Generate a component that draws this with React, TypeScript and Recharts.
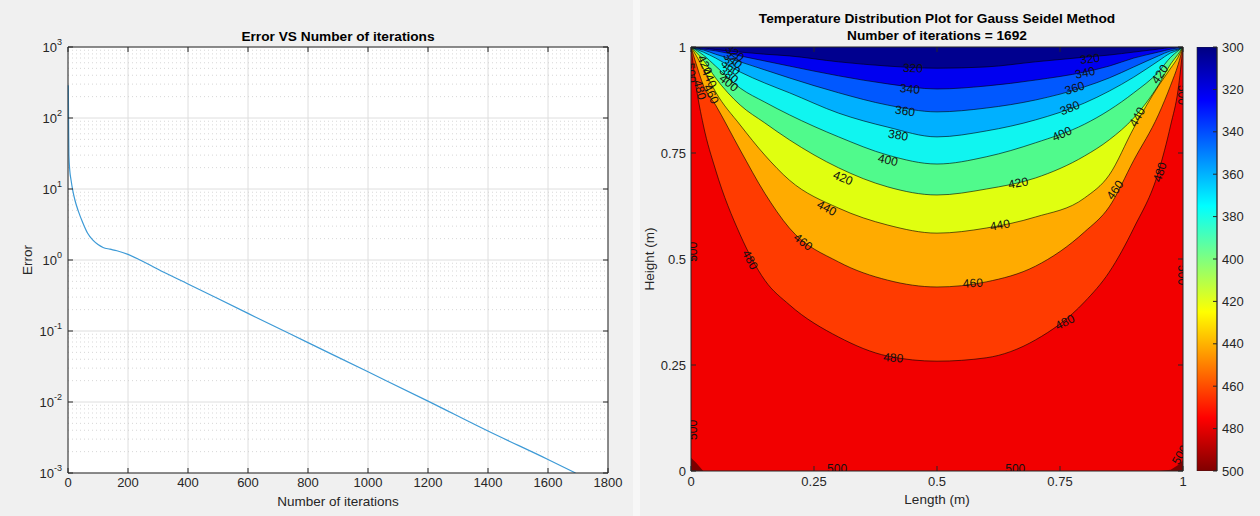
import React from 'react';
import {
  ComposedChart,
  Line,
  Area,
  Scatter,
  XAxis,
  YAxis,
  CartesianGrid,
  ReferenceLine,
  BarChart,
  Bar,
} from 'recharts';

// ---- left panel: error vs iterations ----
const iterations = [1, 2, 3, 6, 10, 16, 23, 35, 50, 65, 83, 100, 117, 140, 163, 200, 240, 273, 300, 400, 600, 800, 1000, 1200, 1400, 1600, 1692];
const errorVals = [290, 80, 30, 18, 13.5, 9.5, 7, 4.8, 3.3, 2.4, 1.9, 1.65, 1.5, 1.42, 1.35, 1.2, 1.0, 0.85, 0.74, 0.46, 0.177, 0.0686, 0.0266, 0.0103, 0.0039, 0.00155, 0.001];
const iterTicks = [0, 200, 400, 600, 800, 1000, 1200, 1400, 1600, 1800];
const errorTicks = [0.001, 0.01, 0.1, 1, 10, 100, 1000];

// ---- right panel: isotherms y(x) ----
const lengthX = [0, 0.01, 0.025, 0.05, 0.1, 0.15, 0.2, 0.3, 0.4, 0.5, 0.6, 0.7, 0.8, 0.85, 0.9, 0.95, 0.975, 0.99, 1];
const iso320 = [1, 0.999, 0.998, 0.994, 0.988, 0.983, 0.979, 0.965, 0.955, 0.95, 0.953, 0.965, 0.976, 0.981, 0.988, 0.995, 0.999, 1, 1];
const iso340 = [1, 0.998, 0.995, 0.991, 0.979, 0.967, 0.955, 0.932, 0.913, 0.901, 0.908, 0.922, 0.941, 0.955, 0.974, 0.988, 0.995, 0.998, 1];
const iso360 = [1, 0.996, 0.993, 0.983, 0.965, 0.946, 0.927, 0.892, 0.863, 0.847, 0.856, 0.875, 0.906, 0.927, 0.953, 0.979, 0.991, 0.995, 1];
const iso380 = [1, 0.995, 0.988, 0.974, 0.941, 0.915, 0.892, 0.844, 0.811, 0.788, 0.802, 0.828, 0.868, 0.896, 0.929, 0.967, 0.986, 0.993, 1];
const iso400 = [1, 0.993, 0.981, 0.955, 0.903, 0.87, 0.84, 0.788, 0.745, 0.724, 0.741, 0.774, 0.818, 0.851, 0.892, 0.941, 0.976, 0.991, 1];
const iso420 = [1, 0.988, 0.969, 0.927, 0.863, 0.821, 0.781, 0.715, 0.67, 0.651, 0.665, 0.691, 0.743, 0.781, 0.833, 0.91, 0.96, 0.983, 1];
const iso440 = [1, 0.981, 0.95, 0.894, 0.816, 0.745, 0.686, 0.62, 0.58, 0.561, 0.573, 0.599, 0.644, 0.698, 0.809, 0.908, 0.95, 0.976, 1];
const iso460 = [1, 0.962, 0.91, 0.863, 0.757, 0.655, 0.573, 0.493, 0.45, 0.434, 0.446, 0.483, 0.564, 0.623, 0.733, 0.84, 0.91, 0.958, 1];
const iso480 = [1, 0.91, 0.816, 0.71, 0.557, 0.45, 0.392, 0.316, 0.271, 0.259, 0.267, 0.309, 0.399, 0.469, 0.573, 0.705, 0.816, 0.899, 1];
const cornerHot = [0.031, 0.02, 0, 0, 0, 0, 0, 0, 0, 0, 0, 0, 0, 0, 0, 0, 0.003, 0.014, 0.026];
const lenTicks = [0, 0.25, 0.5, 0.75, 1];
const cbTicks = [300, 320, 340, 360, 380, 400, 420, 440, 460, 480, 500];

const contourLabels = [
  { t: '320', x: 0.451, y: 0.95, a: 3 },
  { t: '320', x: 0.811, y: 0.972, a: -7 },
  { t: '340', x: 0.445, y: 0.901, a: 5 },
  { t: '340', x: 0.801, y: 0.939, a: -12 },
  { t: '360', x: 0.435, y: 0.849, a: 8 },
  { t: '360', x: 0.78, y: 0.903, a: -17 },
  { t: '380', x: 0.421, y: 0.792, a: 10 },
  { t: '380', x: 0.77, y: 0.856, a: -22 },
  { t: '400', x: 0.4, y: 0.733, a: 13 },
  { t: '400', x: 0.754, y: 0.795, a: -25 },
  { t: '420', x: 0.309, y: 0.691, a: 22 },
  { t: '420', x: 0.665, y: 0.679, a: -10 },
  { t: '420', x: 0.953, y: 0.936, a: -55 },
  { t: '440', x: 0.276, y: 0.62, a: 28 },
  { t: '440', x: 0.628, y: 0.58, a: -10 },
  { t: '440', x: 0.907, y: 0.835, a: -60 },
  { t: '460', x: 0.228, y: 0.54, a: 38 },
  { t: '460', x: 0.573, y: 0.443, a: -3 },
  { t: '460', x: 0.862, y: 0.663, a: -55 },
  { t: '480', x: 0.12, y: 0.498, a: 62 },
  { t: '480', x: 0.411, y: 0.267, a: 5 },
  { t: '480', x: 0.76, y: 0.351, a: -27 },
  { t: '480', x: 0.953, y: 0.705, a: -72 },
  { t: '320', x: 0.089, y: 0.986, a: 38 },
  { t: '340', x: 0.085, y: 0.969, a: 38 },
  { t: '360', x: 0.081, y: 0.953, a: 38 },
  { t: '380', x: 0.077, y: 0.934, a: 38 },
  { t: '400', x: 0.077, y: 0.915, a: 38 },
  { t: '420', x: 0.028, y: 0.958, a: 65 },
  { t: '440', x: 0.037, y: 0.927, a: 65 },
  { t: '460', x: 0.041, y: 0.889, a: 65 },
  { t: '480', x: 0.018, y: 0.899, a: 75 },
  { t: '500', x: 0.0, y: 0.939, a: 85 },
  { t: '500', x: 0.004, y: 0.517, a: -90 },
  { t: '500', x: 0.004, y: 0.097, a: -90 },
  { t: '500', x: 0.297, y: 0.004, a: 0 },
  { t: '500', x: 0.659, y: 0.004, a: 0 },
  { t: '500', x: 0.998, y: 0.887, a: 90 },
  { t: '500', x: 0.998, y: 0.462, a: 90 },
  { t: '500', x: 0.994, y: 0.038, a: -60 },
];

const levels = [320, 340, 360, 380, 400, 420, 440, 460, 480];
const isoByLevel: Record<number, number[]> = {
  320: iso320, 340: iso340, 360: iso360, 380: iso380, 400: iso400,
  420: iso420, 440: iso440, 460: iso460, 480: iso480,
};

// jet colours of each filled band, keyed by the band's lower bound
const bandColors: Record<number, string> = {
  300: '#00008f',
  320: '#0000f0',
  340: '#0058ff',
  360: '#00b0ff',
  380: '#10f5f0',
  400: '#50fa8c',
  420: '#e0ff10',
  440: '#ffab00',
  460: '#ff3b00',
  480: '#f20000',
  500: '#7d0000',
};

const errorRows = iterations.map((it, i) => ({ it, err: errorVals[i] }));
const contourRows = lengthX.map((x, i) => {
  const row: Record<string, number> = { x, hot: cornerHot[i] };
  levels.forEach((lv) => {
    row['l' + lv] = isoByLevel[lv][i];
  });
  return row;
});
const cbRows = [{ k: 'cb', span: [300, 500] }];

const minorErr: number[] = [];
for (let e = -3; e < 3; e++) {
  for (let m = 2; m <= 9; m++) minorErr.push(m * Math.pow(10, e));
}

const AX = '#262626';
const FONT = '"Liberation Sans", Arial, Helvetica, sans-serif';

const PowTick = (props: any) => {
  const { x, y, payload } = props;
  const exp = Math.round(Math.log10(payload.value));
  return (
    <text x={x} y={y} dy={5} textAnchor="end" fill={AX} fontSize={13}>
      10<tspan dy={-7} fontSize={9}>{exp}</tspan>
    </text>
  );
};

const ContourText = (props: any) => {
  const { cx, cy, payload } = props;
  if (cx == null || cy == null) return null;
  return (
    <text
      x={cx}
      y={cy}
      textAnchor="middle"
      dominantBaseline="central"
      fontSize={12}
      fill="#111"
      transform={`rotate(${payload.a} ${cx} ${cy})`}
    >
      {payload.t}
    </text>
  );
};

const blank = () => '';

const Txt: React.FC<{ x: number; y: number; bold?: boolean; rot?: number; size?: number; children: React.ReactNode }> = ({
  x, y, bold, rot, size, children,
}) => (
  <div
    style={{
      position: 'absolute',
      left: x,
      top: y,
      transform: `translate(-50%, -50%)${rot ? ` rotate(${rot}deg)` : ''}`,
      whiteSpace: 'nowrap',
      fontWeight: bold ? 700 : 400,
      fontSize: size ?? 13,
      color: bold ? '#000' : AX,
      lineHeight: 1,
    }}
  >
    {children}
  </div>
);

export default function App() {
  return (
    <div
      style={{
        position: 'absolute',
        left: 0,
        top: 0,
        width: 1260,
        height: 516,
        background: '#f0f0f0',
        fontFamily: FONT,
        overflow: 'hidden',
      }}
    >
      <div style={{ position: 'absolute', left: 633, top: 0, width: 7, height: 516, background: '#f7f7f7' }} />

      {/* left: convergence history */}
      <div style={{ position: 'absolute', left: 0, top: 0 }}>
        <ComposedChart width={640} height={516} data={errorRows} margin={{ top: 46, right: 31, bottom: 13, left: 18 }}>
          <CartesianGrid xAxisId="b" yAxisId="l" stroke="#dedede" fill="#ffffff" />
          {minorErr.map((v) => (
            <ReferenceLine key={v} xAxisId="b" yAxisId="l" y={v} stroke="#cdcdcd" strokeDasharray="1 3" strokeWidth={0.8} />
          ))}
          <Line
            xAxisId="b"
            yAxisId="l"
            dataKey="err"
            type="monotone"
            stroke="#3d9ad6"
            strokeWidth={1.2}
            dot={false}
            activeDot={false}
            isAnimationActive={false}
          />
          <XAxis
            xAxisId="b"
            dataKey="it"
            type="number"
            domain={[0, 1800]}
            ticks={iterTicks}
            interval={0}
            height={30}
            tickSize={-5}
            tickMargin={10}
            stroke={AX}
            tick={{ fill: AX, fontSize: 13 }}
          />
          <XAxis
            xAxisId="t"
            orientation="top"
            dataKey="it"
            type="number"
            domain={[0, 1800]}
            ticks={iterTicks}
            interval={0}
            height={1}
            tickSize={-5}
            stroke={AX}
            tickFormatter={blank}
          />
          <YAxis
            yAxisId="l"
            scale="log"
            domain={[0.001, 1000]}
            ticks={errorTicks}
            interval={0}
            allowDataOverflow
            width={50}
            tickSize={-5}
            tickMargin={11}
            stroke={AX}
            tick={<PowTick />}
          />
          <YAxis
            yAxisId="r"
            orientation="right"
            scale="log"
            domain={[0.001, 1000]}
            ticks={errorTicks}
            interval={0}
            allowDataOverflow
            width={1}
            tickSize={-5}
            stroke={AX}
            tickFormatter={blank}
          />
        </ComposedChart>
      </div>
      <Txt x={338} y={37} bold size={13.7}>Error VS Number of iterations</Txt>
      <Txt x={338} y={502} size={13.5}>Number of iterations</Txt>
      <Txt x={28} y={260} rot={-90} size={13.5}>Error</Txt>

      {/* right: filled contour */}
      <div style={{ position: 'absolute', left: 640, top: 0 }}>
        <ComposedChart width={560} height={516} data={contourRows} margin={{ top: 46, right: 16, bottom: 15, left: 11 }}>
          <CartesianGrid xAxisId="b" yAxisId="l" horizontal={false} vertical={false} fill={bandColors[480]} />
          {levels
            .slice()
            .reverse()
            .map((lv) => (
              <Area
                key={'a' + lv}
                xAxisId="b"
                yAxisId="l"
                dataKey={(d: any) => [d['l' + lv], 1]}
                type="monotone"
                fill={bandColors[lv - 20]}
                fillOpacity={1}
                stroke="none"
                dot={false}
                activeDot={false}
                isAnimationActive={false}
              />
            ))}
          <Area
            xAxisId="b"
            yAxisId="l"
            dataKey={(d: any) => [0, d.hot]}
            type="linear"
            fill={bandColors[500]}
            fillOpacity={1}
            stroke="none"
            dot={false}
            activeDot={false}
            isAnimationActive={false}
          />
          {levels.map((lv) => (
            <Line
              key={'c' + lv}
              xAxisId="b"
              yAxisId="l"
              dataKey={'l' + lv}
              type="monotone"
              stroke="#000"
              strokeWidth={0.6}
              dot={false}
              activeDot={false}
              isAnimationActive={false}
            />
          ))}
          <Scatter
            xAxisId="b"
            yAxisId="l"
            data={contourLabels}
            dataKey="y"
            shape={(p: any) => <ContourText {...p} />}
            isAnimationActive={false}
          />
          <XAxis
            xAxisId="b"
            dataKey="x"
            type="number"
            domain={[0, 1]}
            ticks={lenTicks}
            interval={0}
            allowDataOverflow
            height={30}
            tickSize={-5}
            tickMargin={11}
            stroke={AX}
            tick={{ fill: AX, fontSize: 13 }}
          />
          <XAxis
            xAxisId="t"
            orientation="top"
            dataKey="x"
            type="number"
            domain={[0, 1]}
            ticks={lenTicks}
            interval={0}
            height={1}
            tickSize={-5}
            stroke={AX}
            tickFormatter={blank}
          />
          <YAxis
            yAxisId="l"
            type="number"
            domain={[0, 1]}
            ticks={lenTicks}
            interval={0}
            allowDataOverflow
            width={40}
            tickSize={-5}
            tickMargin={10}
            stroke={AX}
            tick={{ fill: AX, fontSize: 13 }}
          />
          <YAxis
            yAxisId="r"
            orientation="right"
            type="number"
            domain={[0, 1]}
            ticks={lenTicks}
            interval={0}
            allowDataOverflow
            width={1}
            tickSize={-5}
            stroke={AX}
            tickFormatter={blank}
          />
        </ComposedChart>
      </div>
      <Txt x={937} y={19} bold size={13.7}>Temperature Distribution Plot for Gauss Seidel Method</Txt>
      <Txt x={937} y={36} bold size={13.7}>Number of iterations = 1692</Txt>
      <Txt x={937} y={500} size={13.5}>Length (m)</Txt>
      <Txt x={650} y={259} rot={-90} size={13.5}>Height (m)</Txt>

      {/* colour bar */}
      <div style={{ position: 'absolute', left: 1190, top: 0 }}>
        <BarChart width={70} height={516} data={cbRows} margin={{ top: 47, right: 3, bottom: 45, left: 7 }} barCategoryGap={0}>
          <defs>
            <linearGradient id="jet" x1="0" y1="0" x2="0" y2="1">
              <stop offset="0" stopColor="#000080" />
              <stop offset="0.125" stopColor="#0000ff" />
              <stop offset="0.375" stopColor="#00ffff" />
              <stop offset="0.625" stopColor="#ffff00" />
              <stop offset="0.875" stopColor="#ff0000" />
              <stop offset="1" stopColor="#800000" />
            </linearGradient>
          </defs>
          <XAxis dataKey="k" hide />
          <YAxis
            orientation="right"
            type="number"
            domain={[300, 500]}
            reversed
            ticks={cbTicks}
            interval={0}
            allowDataOverflow
            width={40}
            tickSize={-4}
            tickMargin={9}
            stroke={AX}
            tick={{ fill: AX, fontSize: 13, textAnchor: 'start' }}
          />
          <Bar dataKey="span" fill="url(#jet)" stroke={AX} strokeWidth={0.6} isAnimationActive={false} />
        </BarChart>
      </div>
    </div>
  );
}
